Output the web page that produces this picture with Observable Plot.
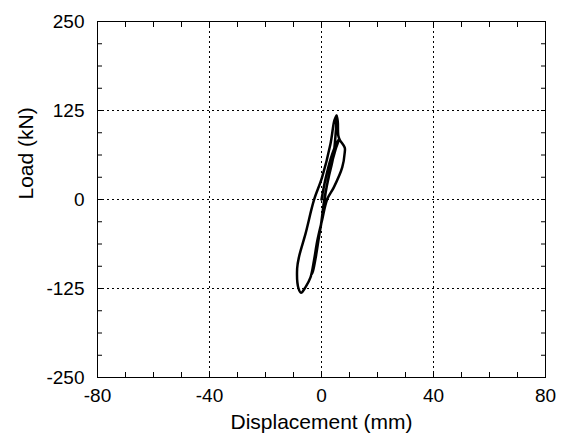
<!DOCTYPE html>
<html><head><meta charset="utf-8">
<script src="https://cdn.jsdelivr.net/npm/d3@7"></script>
<script src="https://cdn.jsdelivr.net/npm/@observablehq/plot@0.6"></script>
<style>body{margin:0;background:#fff;} svg{font-family:"Liberation Sans",Arial,sans-serif;}</style>
</head><body><div id="chart"></div>
<script>
const disp = [0,1.5,3.5,5.5,6.2,5,3,1.5,0.5,-0.8,-2,-3,-3.5,-2.5,-1.2,0,1,2.5,4.2,5.2,5.4,5.8,6,6.5,8.3,8.3,7.4,4.4,2,0.2,-1.5,-2.7,-3.9,-5.7,-7.3,-8.2,-8.7,-8,-5.7,-2.7,0.2,3.2,4.6,5.4];
const load = [0,30,60,80,84,70,40,10,-20,-50,-80,-100,-105,-90,-60,-30,0,30,60,100,118,110,90,84,73,66,45,17,0,-29,-58,-86,-109,-123,-131,-125,-97,-80,-48,-1,31,78,111,118];
const xTicks = [-80,-40,0,40,80];
const yTicks = [-250,-125,0,125,250];
const xGrid = [-40,0,40];
const yGrid = [-125,0,125];
const xMinor = d3.range(-70,80,10);
const yMinor = d3.range(-218.75,250,31.25);
const xTitle = ["Displacement (mm)"];
const yTitle = ["Load (kN)"];
const data = disp.map((d,i)=>({x:d,y:load[i]}));
const fmt = d => String(d);
const chart = Plot.plot({
  width:565, height:441,
  marginLeft:97, marginRight:20, marginTop:21, marginBottom:64,
  style:{fontSize:"19px", fontFamily:"'Liberation Sans',Arial,sans-serif", color:"#000", background:"#fff"},
  x:{domain:[-80,80]},
  y:{domain:[-250,250]},
  marks:[
    Plot.gridX(xGrid,{stroke:"#000",strokeOpacity:1,strokeDasharray:"2,3",strokeWidth:1}),
    Plot.gridY(yGrid,{stroke:"#000",strokeOpacity:1,strokeDasharray:"2,3",strokeWidth:1}),
    Plot.axisX(xMinor,{anchor:"bottom",tickSize:-5,text:null,label:null}),
    Plot.axisX(xMinor,{anchor:"top",tickSize:-5,text:null,label:null}),
    Plot.axisY(yMinor,{anchor:"left",tickSize:-5,text:null,label:null}),
    Plot.axisY(yMinor,{anchor:"right",tickSize:-5,text:null,label:null}),
    Plot.axisX(xTicks,{anchor:"bottom",tickSize:0,tickPadding:11,label:null,tickFormat:fmt,fontSize:19}),
    Plot.axisY(yTicks,{anchor:"left",tickSize:0,tickPadding:13,label:null,tickFormat:fmt,fontSize:19}),
    Plot.text(xTitle,{frameAnchor:"bottom",dy:51,fontSize:21,text:d=>d}),
    Plot.text(yTitle,{frameAnchor:"left",dx:-71,rotate:-90,fontSize:21,text:d=>d}),
    Plot.frame({stroke:"#000",strokeWidth:1}),
    Plot.line(data,{x:"x",y:"y",stroke:"#000",strokeWidth:2.5,strokeLinejoin:"round",curve:"catmull-rom"})
  ]
});
document.getElementById("chart").appendChild(chart);
</script></body></html>
